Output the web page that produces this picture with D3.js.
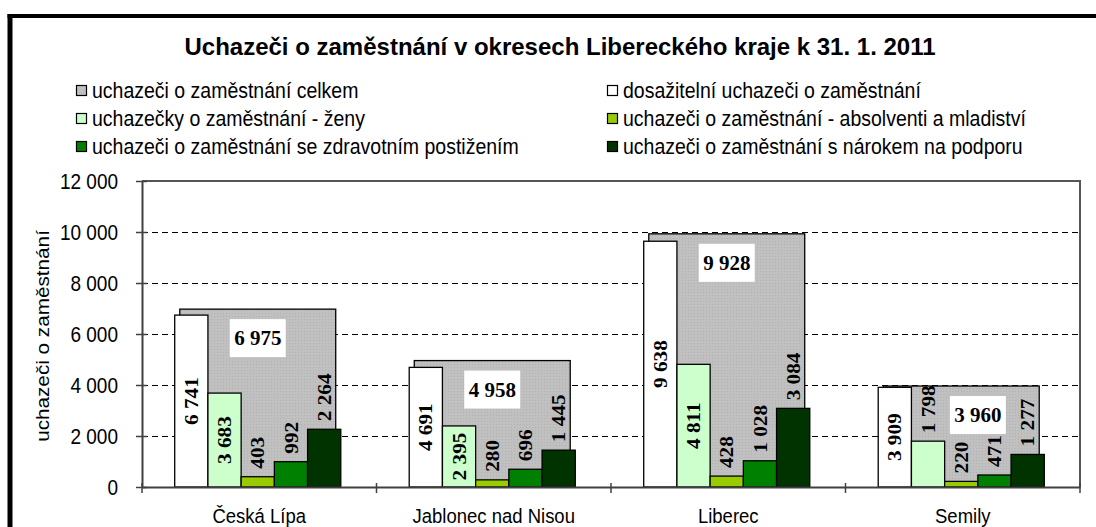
<!DOCTYPE html>
<html>
<head>
<meta charset="utf-8">
<style>
  body { margin: 0; background: #fff; }
  svg { display: block; }
  .sans { font-family: "Liberation Sans", Arial, sans-serif; fill: #000; }
  .serif { font-family: "Liberation Serif", "Times New Roman", serif; font-weight: bold; fill: #000; }
  .bar { stroke: #000; stroke-width: 1.3px; }
  .grid { stroke: #000; stroke-width: 1px; stroke-dasharray: 6 4; shape-rendering: crispEdges; }
</style>
</head>
<body>
<script src="https://cdn.jsdelivr.net/npm/d3@7/dist/d3.min.js"></script>
<script>
// data
var districts = ["Česká Lípa", "Jablonec nad Nisou", "Liberec", "Semily"];
var celkem      = [6975, 4958, 9928, 3960];
var dosazitelni = [6741, 4691, 9638, 3909];
var zeny        = [3683, 2395, 4811, 1798];
var absolventi  = [403, 280, 428, 220];
var postizeni   = [992, 696, 1028, 471];
var podpora     = [2264, 1445, 3084, 1277];
var yTicks = [0, 2000, 4000, 6000, 8000, 10000, 12000];
var legendNames = [
  "uchazeči o zaměstnání celkem",
  "dosažitelní uchazeči o zaměstnání",
  "uchazečky o zaměstnání - ženy",
  "uchazeči o zaměstnání - absolventi a mladiství",
  "uchazeči o zaměstnání se zdravotním postižením",
  "uchazeči o zaměstnání s nárokem na podporu"
];
var title = "Uchazeči o zaměstnání v okresech Libereckého kraje k 31. 1. 2011";
var yTitle = "uchazeči o zaměstnání";

var W = 1096, H = 527;
var plot = {left: 142, right: 1080, top: 181, bottom: 487};
var stretch = 1.12;   // the original picture is slightly stretched vertically

var fmt = d3.formatLocale({decimal: ",", thousands: " ", grouping: [3], currency: ["", ""]}).format(",d");

// front series (5 bars) and their colours
var front = [
  {values: dosazitelni, color: "#ffffff", pos: "center"},
  {values: zeny,        color: "#ccffcc", pos: "center"},
  {values: absolventi,  color: "#99cc00", pos: "outside"},
  {values: postizeni,   color: "#008000", pos: "outside"},
  {values: podpora,     color: "#003300", pos: "outside"}
];
var legendColors = ["#c0c0c0", "#ffffff", "#ccffcc", "#99cc00", "#008000", "#003300"];

var svg = d3.select("body").append("svg")
    .attr("width", W)
    .attr("height", H);

// dotted texture for the total bars
var defs = svg.append("defs");
var pat = defs.append("pattern")
    .attr("id", "dots")
    .attr("width", 3).attr("height", 3)
    .attr("patternUnits", "userSpaceOnUse");
pat.append("rect").attr("width", 3).attr("height", 3).attr("fill", "#c0c0c0");
pat.append("rect").attr("x", 1).attr("y", 1).attr("width", 1).attr("height", 1).attr("fill", "#b2b2b2");

// outer frame (top and left visible)
svg.append("line").attr("x1", 7.5).attr("x2", W).attr("y1", 16).attr("y2", 16)
    .attr("stroke", "#000").attr("stroke-width", 4);
svg.append("line").attr("x1", 10).attr("x2", 10).attr("y1", 14).attr("y2", H)
    .attr("stroke", "#000").attr("stroke-width", 5);

// title
svg.append("text")
    .attr("class", "sans")
    .attr("transform", "translate(560,55)")
    .attr("text-anchor", "middle")
    .style("font-size", "24px")
    .style("font-weight", "bold")
    .text(title);

// legend
var legendRows = [91, 119, 147];
var legendCols = [76, 607];
legendNames.forEach(function(name, i) {
  var cx = legendCols[i % 2], cy = legendRows[Math.floor(i / 2)];
  svg.append("rect")
      .attr("x", cx + 0.5).attr("y", cy - 5.5)
      .attr("width", 10).attr("height", 10)
      .attr("fill", legendColors[i])
      .attr("stroke", "#000").attr("stroke-width", 1.2);
  svg.append("text")
      .attr("class", "sans")
      .attr("transform", "translate(" + (cx + 16) + "," + (cy + 6.5) + ") scale(1," + stretch + ")")
      .style("font-size", "19.5px")
      .text(name);
});

// scales
var y = d3.scaleLinear().domain([0, 12000]).range([plot.bottom, plot.top]);
var x = d3.scaleBand().domain(districts).range([plot.left, plot.right]);
var xTotal = d3.scaleBand().domain(districts).range([plot.left, plot.right])
    .paddingInner(0.335).paddingOuter(0.1675);
var xSub = d3.scaleBand().domain(d3.range(front.length)).range([0, x.bandwidth()])
    .paddingInner(0).paddingOuter(1.03);

// gridlines
svg.append("g")
  .selectAll("line")
  .data(yTicks.filter(function(t) { return t > 0 && t < 12000; }))
  .enter().append("line")
    .attr("class", "grid")
    .attr("x1", plot.left).attr("x2", plot.right)
    .attr("y1", function(d) { return Math.round(y(d)) + 0.5; })
    .attr("y2", function(d) { return Math.round(y(d)) + 0.5; });

// total bars (behind)
var shift = -1.5;
svg.append("g")
  .selectAll("rect")
  .data(districts)
  .enter().append("rect")
    .attr("class", "bar")
    .attr("x", function(d) { return xTotal(d) + shift; })
    .attr("y", function(d, i) { return y(celkem[i]); })
    .attr("width", xTotal.bandwidth())
    .attr("height", function(d, i) { return y(0) - y(celkem[i]); })
    .attr("fill", "url(#dots)");

// white boxes with total values (positioned after the bar labels)
var boxW = 56, boxH = 38;
var boxLayer = svg.append("g");

// front bars
var labelBoxes = [];
front.forEach(function(s, k) {
  var g = svg.append("g");
  g.selectAll("rect")
    .data(districts)
    .enter().append("rect")
      .attr("class", "bar")
      .attr("x", function(d) { return x(d) + xSub(k) + shift; })
      .attr("y", function(d, i) { return y(s.values[i]); })
      .attr("width", xSub.bandwidth())
      .attr("height", function(d, i) { return y(0) - y(s.values[i]); })
      .attr("fill", s.color);

  g.selectAll("text")
    .data(districts)
    .enter().append("text")
      .attr("class", "serif")
      .attr("dominant-baseline", "central")
      .style("font-size", "19px")
      .text(function(d, i) { return fmt(s.values[i]); })
      .each(function(d, i) {
        var t = d3.select(this);
        var len = this.getComputedTextLength() * stretch;
        var top = y(s.values[i]), h = y(0) - top;
        var cx = x(d) + xSub(k) + shift + xSub.bandwidth() / 2;
        if (s.pos === "center" && h > len + 8) {
          t.attr("text-anchor", "middle")
           .attr("transform", "translate(" + cx + "," + (top + h / 2) + ") scale(1," + stretch + ") rotate(-90)");
        } else {
          t.attr("text-anchor", "start")
           .attr("transform", "translate(" + cx + "," + (top - 8) + ") scale(1," + stretch + ") rotate(-90)");
        }
        var b = this.getBoundingClientRect();
        labelBoxes.push({cat: d, x0: b.left, x1: b.right, y0: b.top, y1: b.bottom});
      });
});

// place each total box near the top of its bar; if it hits a bar label,
// move it into the nearest free horizontal gap between labels
districts.forEach(function(d, i) {
  var left = xTotal(d) + shift, right = left + xTotal.bandwidth();
  var mid = (left + right) / 2;
  var by = y(celkem[i]) + 10;
  var bx = mid - boxW / 2;
  var rowLabels = labelBoxes.filter(function(l) {
    return l.cat === d && l.y1 > by && l.y0 < by + boxH;
  });
  var hit = rowLabels.some(function(l) { return l.x1 > bx && l.x0 < bx + boxW; });
  if (hit) {
    rowLabels.sort(function(a, b) { return a.x0 - b.x0; });
    var edges = [left];
    rowLabels.forEach(function(l) { edges.push(l.x0, l.x1); });
    edges.push(right);
    var best = null;
    for (var e = 0; e < edges.length; e += 2) {
      var g0 = edges[e], g1 = edges[e + 1];
      if (g1 - g0 < boxW + 4) continue;
      var c = (g0 + g1) / 2;
      if (best === null || Math.abs(c - mid) < Math.abs(best - mid)) best = c;
    }
    if (best !== null) bx = best - boxW / 2;
  }
  boxLayer.append("rect")
      .attr("x", bx).attr("y", by)
      .attr("width", boxW).attr("height", boxH)
      .attr("fill", "#fff");
  boxLayer.append("text")
      .attr("class", "serif")
      .attr("text-anchor", "middle")
      .attr("dominant-baseline", "central")
      .attr("x", bx + boxW / 2)
      .attr("y", by + boxH / 2)
      .style("font-size", "21px")
      .text(fmt(celkem[i]));
});

// plot area border (top and right)
svg.append("path")
    .attr("d", "M" + plot.left + "," + plot.top + "H" + plot.right + "V" + plot.bottom)
    .attr("fill", "none").attr("stroke", "#555").attr("stroke-width", 2);

// y axis
var yAxis = svg.append("g")
    .attr("transform", "translate(" + plot.left + ",0)")
    .call(d3.axisLeft(y).tickValues(yTicks).tickFormat(fmt).tickSizeInner(6).tickSizeOuter(0));
yAxis.select(".domain").attr("stroke", "#404040").attr("stroke-width", 2);
yAxis.selectAll(".tick line").attr("stroke", "#404040").attr("stroke-width", 1.5).attr("x2", -6).attr("x1", 5);
yAxis.selectAll(".tick text")
    .attr("class", "sans")
    .style("font-size", "19px")
    .attr("x", null)
    .attr("dy", null)
    .attr("dominant-baseline", "central")
    .attr("transform", "translate(-24,0) scale(1," + stretch + ")");

// x axis
var xAxis = svg.append("g")
    .attr("transform", "translate(0," + plot.bottom + ")")
    .call(d3.axisBottom(x).tickSize(0).tickPadding(0));
xAxis.select(".domain").attr("stroke", "#404040").attr("stroke-width", 2);
xAxis.selectAll(".tick text")
    .attr("class", "sans")
    .style("font-size", "18.5px")
    .attr("y", null).attr("dy", null)
    .attr("transform", "translate(0,36) scale(1," + stretch + ")");
// category boundary ticks
xAxis.append("g")
  .selectAll("line")
  .data(districts.slice(1).concat([null]))
  .enter().append("line")
    .attr("x1", function(d) { return d === null ? plot.right : x(d); })
    .attr("x2", function(d) { return d === null ? plot.right : x(d); })
    .attr("y1", -4).attr("y2", 6)
    .attr("stroke", "#404040").attr("stroke-width", 1.5);
xAxis.append("line")
    .attr("x1", plot.left).attr("x2", plot.left).attr("y1", -4).attr("y2", 6)
    .attr("stroke", "#404040").attr("stroke-width", 1.5);

// y axis title
svg.append("text")
    .attr("class", "sans")
    .attr("text-anchor", "middle")
    .attr("dominant-baseline", "central")
    .attr("transform", "translate(42,336) scale(1," + stretch + ") rotate(-90)")
    .style("font-size", "18.5px")
    .text(yTitle);
</script>
</body>
</html>
